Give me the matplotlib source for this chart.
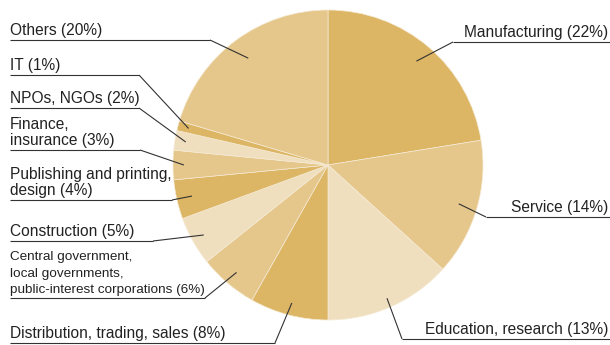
import numpy as np
import matplotlib.pyplot as plt

plt.rcParams['font.family'] = ['Liberation Sans', 'DejaVu Sans']

W, H = 610, 345

sectors = ['Manufacturing', 'Service', 'Education, research',
           'Distribution, trading, sales',
           'Central government,\nlocal governments,\npublic-interest corporations',
           'Construction', 'Publishing and printing,\ndesign',
           'Finance,\ninsurance', 'NPOs, NGOs', 'IT', 'Others']
shares = [22, 14, 13, 8, 6, 5, 4, 3, 2, 1, 20]

dark, mid, light = '#dcb565', '#e5c68b', '#f0dfbf'
colors = [dark, mid, light, dark, mid, light, dark, mid, light, dark, mid]

# label layout in pixels from the top-left:
# (underline y, line start x, line end x, side, anchor radius fraction)
layout = [
    (42, 453, 610, 'right', 0.88),
    (217, 486, 610, 'right', 0.88),
    (339, 402, 610, 'right', 0.94),
    (343, 10, 275, 'left', 0.92),
    (298, 10, 205, 'left', 0.91),
    (241, 10, 153, 'left', 0.92),
    (200, 10, 172, 'left', 0.9),
    (150, 10, 140, 'left', 0.93),
    (108, 10, 139, 'left', 0.93),
    (75, 10, 139, 'left', 0.93),
    (40, 10, 210, 'left', 0.86),
]

cx, cy, R = 328, H - 165, 155

fig = plt.figure(figsize=(W / 100, H / 100), dpi=100)
ax = fig.add_axes([0, 0, 1, 1])

wedges, _ = ax.pie(shares, colors=colors, startangle=90, counterclock=False,
                   center=(cx, cy), radius=R,
                   wedgeprops=dict(edgecolor='#f5ead3', linewidth=0.5))

ax.set_xlim(0, W)
ax.set_ylim(0, H)
ax.set_aspect('equal')
ax.axis('off')

line_kw = dict(color='#333333', lw=0.8, solid_capstyle='butt')
for w, name, val, (uy, x0, x1, side, rf) in zip(wedges, sectors, shares, layout):
    # leader anchor inside the wedge, along its middle angle
    ang = np.deg2rad((w.theta1 + w.theta2) / 2)
    px, py = cx + rf * R * np.cos(ang), cy + rf * R * np.sin(ang)
    y = H - uy
    ax.plot([x0, x1], [y, y], **line_kw)
    if side == 'left':
        ax.plot([x1, px], [y, py], **line_kw)
        tx, ha = x0, 'left'
    else:
        ax.plot([x0, px], [y, py], **line_kw)
        tx, ha = x1 - 2, 'right'
    if name.startswith('Central'):
        font = dict(fontsize=9.7, linespacing=1.5)
    else:
        font = dict(fontsize=11.2, linespacing=1.1)
    ax.text(tx, y + 2, f'{name} ({val}%)', ha=ha, va='bottom',
            color='#222222', **font)

fig.savefig('out.png', dpi=100)
